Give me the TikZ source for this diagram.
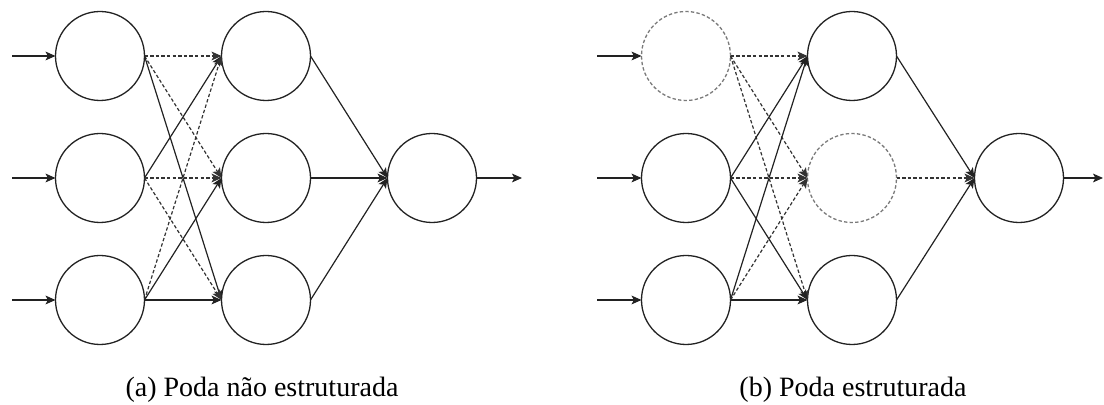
\documentclass[tikz,border=0pt]{standalone}
\usepackage{fontspec}
\setmainfont{Liberation Serif}
\newfontfamily\capfont{Liberation Serif}
\usetikzlibrary{arrows.meta}
\definecolor{linecol}{HTML}{222222}
\definecolor{cutcol}{HTML}{333333}
\definecolor{prunedcol}{HTML}{7A7A7A}
\begin{document}
\begin{tikzpicture}[x=0.5pt,y=-0.5pt,
  neuron/.style={circle,draw=linecol,line width=0.65pt,minimum size=44.5pt,inner sep=0pt,outer sep=0pt},
  pruned/.style={circle,draw=prunedcol,line width=0.65pt,dash pattern=on 1.7pt off 1.1pt,minimum size=44.5pt,inner sep=0pt,outer sep=0pt},
  conn/.style={draw=linecol,line width=0.6pt,-{Stealth[length=5pt,width=4.4pt,inset=1.2pt]}},
  cut/.style={conn,draw=cutcol,dash pattern=on 1.7pt off 1.1pt},
  caption/.style={anchor=base,font=\capfont\fontsize{14pt}{16pt}\selectfont,inner sep=0pt}]
\useasboundingbox (0,0) rectangle (1104,405);

% ---------- (a) unstructured ----------
\node[neuron] (a1) at (100,56) {};
\node[neuron] (a2) at (100,178) {};
\node[neuron] (a3) at (100,300) {};
\node[neuron] (ah1) at (266,56) {};
\node[neuron] (ah2) at (266,178) {};
\node[neuron] (ah3) at (266,300) {};
\node[neuron] (ao) at (432,178) {};
\coordinate (ai1) at (12,56);
\coordinate (ai2) at (12,178);
\coordinate (ai3) at (12,300);
\coordinate (aout) at (522,178);

\draw[conn] (ai1) -- (a1.west);
\draw[conn] (ai2) -- (a2.west);
\draw[conn] (ai3) -- (a3.west);

\draw[cut]  (a1.east) -- (ah1.west);
\draw[cut]  (a1.east) -- (ah2.west);
\draw[conn] (a1.east) -- (ah3.west);
\draw[conn] (a2.east) -- (ah1.west);
\draw[cut]  (a2.east) -- (ah2.west);
\draw[cut]  (a2.east) -- (ah3.west);
\draw[cut]  (a3.east) -- (ah1.west);
\draw[conn] (a3.east) -- (ah2.west);
\draw[conn] (a3.east) -- (ah3.west);

\draw[conn] (ah1.east) -- (ao.west);
\draw[conn] (ah2.east) -- (ao.west);
\draw[conn] (ah3.east) -- (ao.west);
\draw[conn] (ao.east) -- (aout);

\node[caption] (capa) at (262,397) {(a) Poda não estruturada};

% ---------- (b) structured ----------
\node[pruned] (b1) at (686,56) {};
\node[neuron] (b2) at (686,178) {};
\node[neuron] (b3) at (686,300) {};
\node[neuron] (bh1) at (852,56) {};
\node[pruned] (bh2) at (852,178) {};
\node[neuron] (bh3) at (852,300) {};
\node[neuron] (bo) at (1019,178) {};
\coordinate (bi1) at (597,56);
\coordinate (bi2) at (597,178);
\coordinate (bi3) at (597,300);
\coordinate (bout) at (1103,178);

\draw[conn] (bi1) -- (b1.west);
\draw[conn] (bi2) -- (b2.west);
\draw[conn] (bi3) -- (b3.west);

\draw[cut]  (b1.east) -- (bh1.west);
\draw[cut]  (b1.east) -- (bh2.west);
\draw[cut]  (b1.east) -- (bh3.west);
\draw[conn] (b2.east) -- (bh1.west);
\draw[cut]  (b2.east) -- (bh2.west);
\draw[conn] (b2.east) -- (bh3.west);
\draw[conn] (b3.east) -- (bh1.west);
\draw[cut]  (b3.east) -- (bh2.west);
\draw[conn] (b3.east) -- (bh3.west);

\draw[conn] (bh1.east) -- (bo.west);
\draw[cut]  (bh2.east) -- (bo.west);
\draw[conn] (bh3.east) -- (bo.west);
\draw[conn] (bo.east) -- (bout);

\node[caption] (capb) at (853,397) {(b) Poda estruturada};
\end{tikzpicture}
\end{document}
